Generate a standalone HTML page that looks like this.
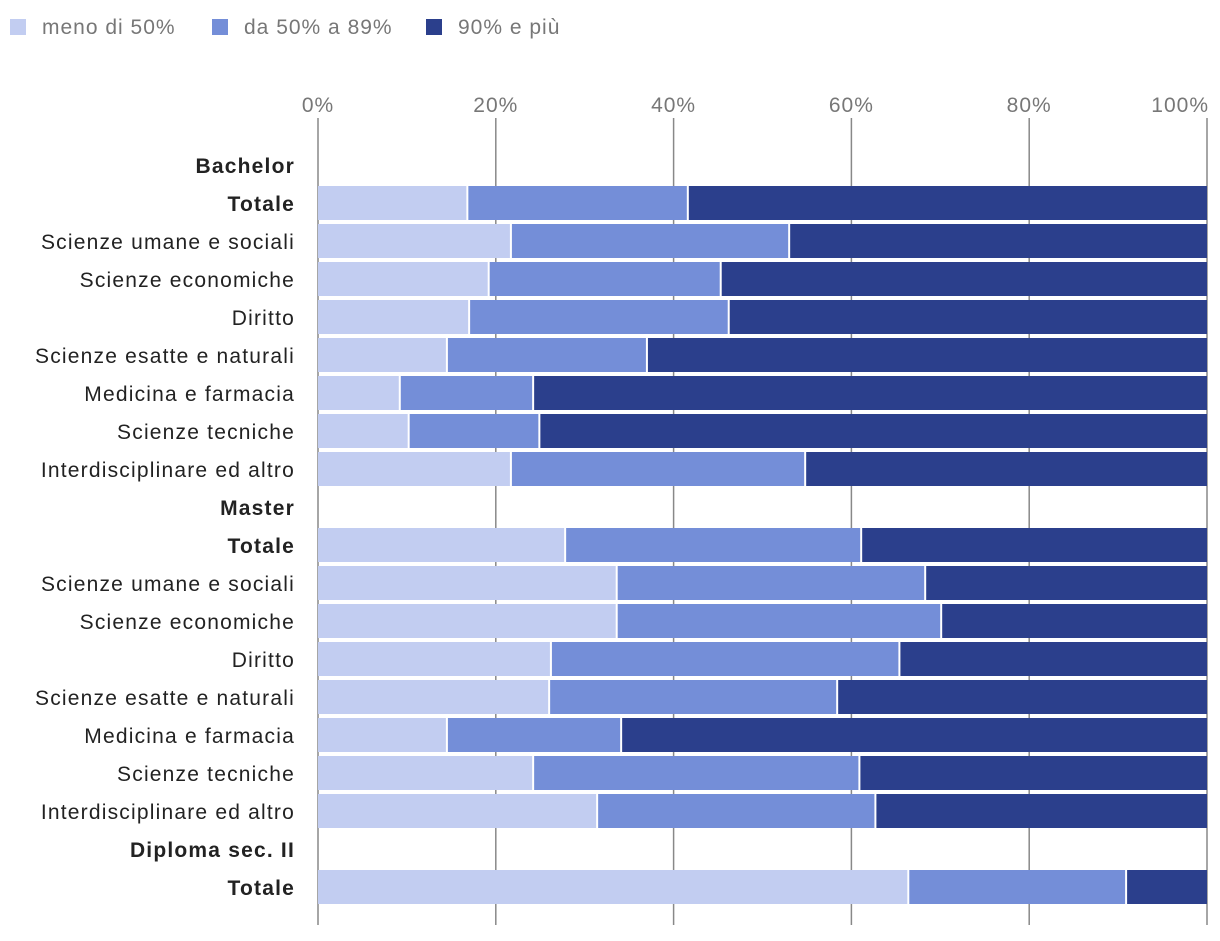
<!DOCTYPE html>
<html><head><meta charset="utf-8">
<style>
body{margin:0;background:#fff;font-family:"Liberation Sans",sans-serif;}
svg text{font-family:"Liberation Sans",sans-serif;}
</style></head>
<body>
<svg id="chart" width="1220" height="936">
<g id="legend">
 <g><rect x="10" y="19" width="16" height="16" fill="#c2cdf1"/><text x="42" y="34" font-size="21" letter-spacing="1" fill="#777">meno di 50%</text></g>
 <g><rect x="212" y="19" width="16" height="16" fill="#748ed8"/><text x="244" y="34" font-size="21" letter-spacing="1" fill="#777">da 50% a 89%</text></g>
 <g><rect x="426" y="19" width="16" height="16" fill="#2b3f8c"/><text x="458" y="34" font-size="21" letter-spacing="1" fill="#777">90% e più</text></g>
</g>
<g id="grid"></g>
<g id="bars"></g>
<g id="labels"></g>
</svg>
<script>
const categories=["Bachelor","Totale","Scienze umane e sociali","Scienze economiche","Diritto","Scienze esatte e naturali","Medicina e farmacia","Scienze tecniche","Interdisciplinare ed altro","Master","Totale","Scienze umane e sociali","Scienze economiche","Diritto","Scienze esatte e naturali","Medicina e farmacia","Scienze tecniche","Interdisciplinare ed altro","Diploma sec. II","Totale"];
const isHeader=[1,0,0,0,0,0,0,0,0,1,0,0,0,0,0,0,0,0,1,0];
const isBold=[1,1,0,0,0,0,0,0,0,1,1,0,0,0,0,0,0,0,1,1];
const lowValues=[null,16.8,21.7,19.2,17.0,14.5,9.2,10.2,21.7,null,27.8,33.6,33.6,26.2,26.0,14.5,24.2,31.4,null,66.4];
const midValues=[null,24.8,31.3,26.1,29.2,22.5,15.0,14.7,33.1,null,33.3,34.7,36.5,39.2,32.4,19.6,36.7,31.3,null,24.5];
const highValues=lowValues.map((l,i)=>l==null?null:100-l-midValues[i]);
const ticks=[0,20,40,60,80,100];
const tickLabels=["0%","20%","40%","60%","80%","100%"];
const colors=["#c2cdf1","#748ed8","#2b3f8c"];
const NS="http://www.w3.org/2000/svg";
const x0=318,x1=1207,rowY0=165,rowStep=38,barH=34;
const xs=v=>x0+(x1-x0)*v/100;
const ys=i=>rowY0+i*rowStep;
function mk(tag,attrs,parent){const e=document.createElementNS(NS,tag);for(const k in attrs)e.setAttribute(k,attrs[k]);parent.appendChild(e);return e;}
const grid=document.getElementById('grid'),bars=document.getElementById('bars'),labels=document.getElementById('labels');
ticks.forEach((t,i)=>{
 const l=mk('line',{x1:xs(t),x2:xs(t),y1:118,y2:925,stroke:'#888','stroke-width':1.5},grid);
 
 
 const tx=mk('text',{x:xs(t),y:112,'font-size':21,'letter-spacing':1,fill:'#777','text-anchor':i==ticks.length-1?'end':'middle'},grid);
 if(i==ticks.length-1)tx.setAttribute('x',xs(t)+2);
 tx.textContent=tickLabels[i];
 
 
});
categories.forEach((c,i)=>{
 const t=mk('text',{x:295,y:ys(i)+8,'font-size':21,'letter-spacing':1.2,fill:'#222','text-anchor':'end','font-weight':isBold[i]?'bold':'normal'},labels);
 t.textContent=c;
 
 
 if(isHeader[i])return;
 const segs=[lowValues[i],midValues[i],highValues[i]];
 let acc=0;
 segs.forEach((v,s)=>{
  const xa=xs(acc),xb=xs(acc+v);acc+=v;
  const r=mk('rect',{x:xa+(s>0?1:0),y:ys(i)-barH/2,width:Math.max(0,xb-xa-(s>0?1:0)-(s<2?1:0)),height:barH,fill:colors[s]},bars);
  
  
 });
});
</script>
</body></html>
